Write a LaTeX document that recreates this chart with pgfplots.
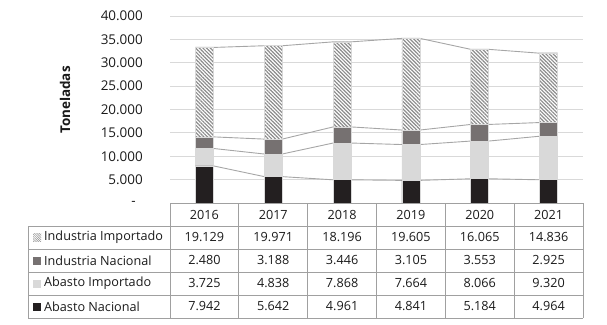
\documentclass[border=0pt]{standalone}
\usepackage{pgfplots}
\pgfplotsset{compat=1.18}
\usepackage{fontspec}
\setmainfont{Open Sans}
\usetikzlibrary{patterns.meta}

\definecolor{gridc}{HTML}{D9D9D9}
\definecolor{cAN}{HTML}{231F20}
\definecolor{cAI}{HTML}{D9D9D9}
\definecolor{cIN}{HTML}{767171}
\definecolor{cII}{HTML}{8C8C8C}
\definecolor{sline}{HTML}{A6A6A6}
\definecolor{tabline}{HTML}{A0A0A0}
\definecolor{txt}{HTML}{1A1A1A}

\newcommand{\tickfont}{\fontsize{13.5}{16}\selectfont}
\newcommand{\tabfont}{\fontsize{12.7}{15}\selectfont}

\begin{document}
\begin{tikzpicture}
\path[use as bounding box] (0,0) rectangle (607bp,-325bp);

% axis 1: grid, ticks, series lines
\begin{axis}[at={(170bp,-203bp)}, anchor=south west, scale only axis,
  width=413bp, height=187bp,
  xmin=0, xmax=6, ymin=0, ymax=40000,
  scaled y ticks=false,
  xtick=\empty,
  ytick={0,5000,10000,15000,20000,25000,30000,35000,40000},
  yticklabels={{-\kern7bp},{5.000},{10.000},{15.000},{20.000},{25.000},{30.000},{35.000},{40.000}},
  ymajorgrids, major grid style={draw=gridc, line width=1bp},
  axis line style={draw=none}, major tick length=0pt,
  yticklabel style={font=\tickfont, text=txt, inner sep=0pt, xshift=-27bp},
  clip=false]
\addplot[sline, line width=0.9bp] coordinates {(0.37,7942)(0.63,7942)(1.37,5642)(1.63,5642)(2.37,4961)(2.63,4961)(3.37,4841)(3.63,4841)(4.37,5184)(4.63,5184)(5.37,4964)(5.63,4964)};
\addplot[sline, line width=0.9bp] coordinates {(0.37,11667)(0.63,11667)(1.37,10480)(1.63,10480)(2.37,12829)(2.63,12829)(3.37,12505)(3.63,12505)(4.37,13250)(4.63,13250)(5.37,14284)(5.63,14284)};
\addplot[sline, line width=0.9bp] coordinates {(0.37,14147)(0.63,14147)(1.37,13668)(1.63,13668)(2.37,16275)(2.63,16275)(3.37,15610)(3.63,15610)(4.37,16803)(4.63,16803)(5.37,17209)(5.63,17209)};
\addplot[sline, line width=0.9bp] coordinates {(0.37,33276)(0.63,33276)(1.37,33639)(1.63,33639)(2.37,34471)(2.63,34471)(3.37,35215)(3.63,35215)(4.37,32868)(4.63,32868)(5.37,32045)(5.63,32045)};
\end{axis}

% axis 2: stacked bars
\begin{axis}[at={(170bp,-203bp)}, anchor=south west, scale only axis,
  width=413bp, height=187bp,
  xmin=0, xmax=6, ymin=0, ymax=40000, hide axis,
  ybar stacked, bar width=0.26]
\addplot[fill=cAN, draw=gridc, line width=0.7bp] coordinates {(0.5,7942)(1.5,5642)(2.5,4961)(3.5,4841)(4.5,5184)(5.5,4964)};
\addplot[fill=cAI, draw=gridc, line width=0.7bp] coordinates {(0.5,3725)(1.5,4838)(2.5,7868)(3.5,7664)(4.5,8066)(5.5,9320)};
\addplot[fill=cIN, draw=gridc, line width=0.7bp] coordinates {(0.5,2480)(1.5,3188)(2.5,3446)(3.5,3105)(4.5,3553)(5.5,2925)};
\addplot[preaction={fill=white}, pattern={Lines[angle=-45,distance=2.6pt,line width=1.2pt]}, pattern color=cII, draw=gridc, line width=0.7bp] coordinates {(0.5,19129)(1.5,19971)(2.5,18196)(3.5,19605)(4.5,16065)(5.5,14836)};
\end{axis}

% y label
\node[rotate=90, font=\fontsize{13.5}{16}\selectfont\bfseries, text=txt] at (65bp,-100bp) {Toneladas};

% data table
\begin{scope}[x=1bp, y=-1bp]
\draw[tabline, line width=0.8bp] (170,203) -- (583,203);
\foreach \yy in {226,249,272,295,318} \draw[tabline, line width=0.8bp] (28,\yy) -- (583,\yy);
\draw[tabline, line width=0.8bp] (28,226) -- (28,318);
\foreach \k in {0,...,6} \draw[tabline, line width=0.8bp] ({170+\k*68.833},203) -- ({170+\k*68.833},318);
% header
\foreach \k/\yr in {0/2016,1/2017,2/2018,3/2019,4/2020,5/2021}
  \node[font=\tabfont, text=txt] at ({170+(\k+0.5)*68.833},214.5) {\yr};
% row labels with keys
\fill[pattern={Lines[angle=-45,distance=1.6pt,line width=0.6pt]}, pattern color=cII] (33,233.5) rectangle (41,241.5);
\fill[cIN] (33,256.5) rectangle (41,264.5);
\fill[cAI] (33,279.5) rectangle (41,287.5);
\fill[cAN] (33,302.5) rectangle (41,310.5);
\node[font=\tabfont, text=txt, anchor=west, inner sep=0pt] at (44,237.5) {Industria Importado};
\node[font=\tabfont, text=txt, anchor=west, inner sep=0pt] at (44,260.5) {Industria Nacional};
\node[font=\tabfont, text=txt, anchor=west, inner sep=0pt] at (44,283.5) {Abasto Importado};
\node[font=\tabfont, text=txt, anchor=west, inner sep=0pt] at (44,306.5) {Abasto Nacional};
% values
\foreach \k/\v in {0/19.129,1/19.971,2/18.196,3/19.605,4/16.065,5/14.836}
  \node[font=\tabfont, text=txt] at ({170+(\k+0.5)*68.833},237.5) {\v};
\foreach \k/\v in {0/2.480,1/3.188,2/3.446,3/3.105,4/3.553,5/2.925}
  \node[font=\tabfont, text=txt] at ({170+(\k+0.5)*68.833},260.5) {\v};
\foreach \k/\v in {0/3.725,1/4.838,2/7.868,3/7.664,4/8.066,5/9.320}
  \node[font=\tabfont, text=txt] at ({170+(\k+0.5)*68.833},283.5) {\v};
\foreach \k/\v in {0/7.942,1/5.642,2/4.961,3/4.841,4/5.184,5/4.964}
  \node[font=\tabfont, text=txt] at ({170+(\k+0.5)*68.833},306.5) {\v};
\end{scope}
\end{tikzpicture}
\end{document}
